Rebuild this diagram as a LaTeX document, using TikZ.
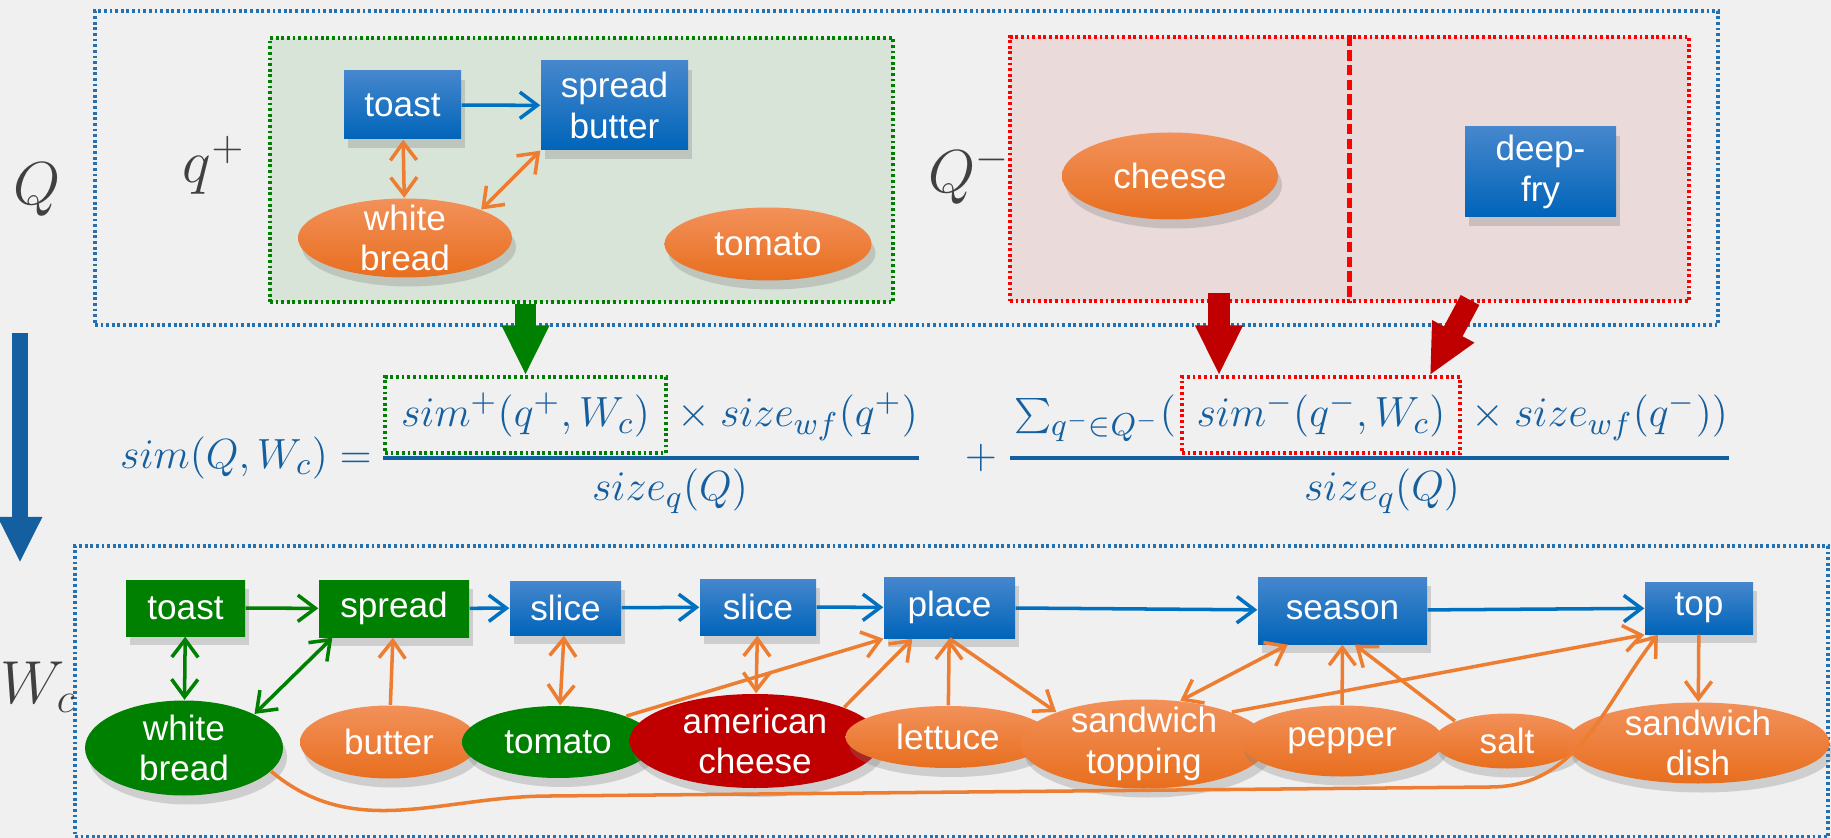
\documentclass[tikz,border=0pt]{standalone}
\usepackage[no-math]{fontspec}
\setmainfont{Liberation Sans}
\usetikzlibrary{arrows.meta, shapes.geometric, shadows, positioning}

\definecolor{bgc}{RGB}{240,240,240}
\definecolor{qblue}{RGB}{36,113,178}
\definecolor{boxtop}{RGB}{70,135,205}
\definecolor{boxbot}{RGB}{0,100,185}
\definecolor{orgtop}{RGB}{242,145,90}
\definecolor{orgbot}{RGB}{232,110,30}
\definecolor{wgreen}{RGB}{0,128,0}
\definecolor{wred}{RGB}{192,0,0}
\definecolor{negred}{RGB}{255,0,0}
\definecolor{linkblue}{RGB}{0,112,192}
\definecolor{linkorg}{RGB}{237,125,49}
\definecolor{fblue}{RGB}{20,95,160}
\definecolor{mgrey}{RGB}{64,64,64}
\definecolor{posfill}{RGB}{217,228,216}
\definecolor{negfill}{RGB}{234,218,218}

\tikzset{
  hd/.tip={Straight Barb[length=5pt,width=7.5pt]},
  sz/.style 2 args={minimum width=#1cm, minimum height=#2cm},
  act/.style={rectangle, top color=boxtop, bottom color=boxbot, text=white, align=center, inner sep=1pt,
    font=\fontsize{10}{11.5}\selectfont, drop shadow={shadow xshift=0.4mm, shadow yshift=-0.9mm, opacity=0.3}},
  actg/.style={act, top color=wgreen, bottom color=wgreen},
  ing/.style={ellipse, top color=orgtop, bottom color=orgbot, text=white, align=center, inner sep=0pt, inner ysep=-2pt,
    font=\fontsize{10}{11.5}\selectfont, drop shadow={shadow xshift=0.4mm, shadow yshift=-0.9mm, opacity=0.3}},
  ingg/.style={ing, top color=wgreen, bottom color=wgreen},
  ingr/.style={ing, top color=wred, bottom color=wred},
  flow/.style={linkblue, line width=1pt, -hd},
  flowg/.style={flow, wgreen},
  link/.style={linkorg, line width=1pt, -hd},
  blink/.style={link, hd-hd},
  blinkg/.style={blink, wgreen},
  dots/.style={line width=1pt, dash pattern=on 0.8pt off 0.8pt},
  lab/.style={text=mgrey, inner sep=0pt, font=\fontsize{17}{20}\selectfont},
  fml/.style={text=fblue, inner sep=1pt, font=\fontsize{13}{15}\selectfont},
  fbar/.style={fblue, line width=0.9pt},
  bigg/.style={wgreen, line width=6pt, -{Triangle[length=5mm,width=4.4mm]}},
  bigr/.style={wred, line width=6pt, -{Triangle[length=5mm,width=4.4mm]}}
}

\begin{document}
\begin{tikzpicture}
\fill[bgc] (0,0) rectangle (18.31,-8.38);
\useasboundingbox (0,0) rectangle (18.31,-8.38);

\node[draw=qblue, dots, sz={16.23}{3.14}] (qbox) at (9.065,-1.68) {};
\node[draw=wgreen, fill=posfill, dots, sz={6.23}{2.64}] (posbox) at (5.815,-1.70) {};
\node[draw=negred, fill=negfill, dots, sz={6.79}{2.64}] (negbox) at (13.495,-1.69) {};
\draw[negred, line width=1.3pt, dash pattern=on 3pt off 1.2pt] (negbox.north) -- (negbox.south);
\node[draw=qblue, dots, sz={17.53}{2.91}] (wbox) at (9.515,-6.915) {};

\node[lab, anchor=base west] (qlab) at (0.13,-2.05) {$Q$};
\node[lab, anchor=base west] (qplab) at (1.82,-1.83) {$q^+$};
\node[lab, anchor=base west] (qmlab) at (9.28,-1.93) {$Q^-$};
\node[lab, anchor=base west] (wlab) at (0.0,-7.03) {$W_c$};

\node[act, sz={1.17}{0.68}] (qtoast) at (4.025,-1.05) {toast};
\node[act, sz={1.47}{0.89}] (qspread) at (6.145,-1.055) {spread\\butter};
\node[ing, sz={2.14}{0.79}] (qbread) at (4.05,-2.38) {white\\bread};
\node[ing, sz={2.07}{0.73}] (qtomato) at (7.68,-2.44) {tomato};
\node[ing, sz={2.16}{0.87}] (qcheese) at (11.70,-1.76) {cheese};
\node[act, sz={1.51}{0.90}] (qfry) at (15.405,-1.72) {deep-\\fry};

\draw[flow] (qtoast) -- (qspread);
\draw[blink] (qtoast) -- (qbread);
\draw[blink] (qspread.south west) -- (qbread.north east);

\node[fml, anchor=east] (lhs) at (3.76,-4.58) {$sim(Q,W_c)=$};
\node[fml] (plus) at (9.81,-4.58) {$+$};
\node[fml, draw=wgreen, dots, sz={2.81}{0.76}, anchor=base] (simp) at (5.255,-4.27) {$sim^+(q^+,W_c)$};
\node[fml, anchor=base west, inner xsep=0pt] (timesp) at (simp.base east) {${}\times size_{wf}(q^+)$};
\node[fml, anchor=base] (denp) at (6.70,-5.01) {$size_q(Q)$};
\draw[fbar] (simp.west |- plus) -- (timesp.east |- plus);
\node[fml, draw=negred, dots, sz={2.78}{0.76}, anchor=base] (simn) at (13.21,-4.27) {$sim^-(q^-,W_c)$};
\node[fml, anchor=base east] (sumn) at (simn.base west) {$\sum_{q^-\in Q^-}($};
\node[fml, anchor=base west, inner xsep=0pt] (timesn) at (simn.base east) {${}\times size_{wf}(q^-))$};
\node[fml, anchor=base] (denn) at (13.82,-5.01) {$size_q(Q)$};
\draw[fbar] (sumn.west |- plus) -- (timesn.east |- plus);

\coordinate (na) at (12.19,-2.93);
\coordinate (nb) at (14.70,-3.00);
\draw[bigg] (posbox.south -| simp.north) -- (simp.north);
\draw[bigr] (na) -- (na |- simn.north);
\draw[bigr] (nb) -- ([xshift=-3.2mm]simn.north east);

\coordinate (dn1) at (0.20,-3.33);
\coordinate (dn2) at (0.20,-5.63);
\draw[fblue, line width=4.3pt, -{Triangle[length=4.6mm,width=4.1mm]}] (dn1) -- (dn2);

\node[actg, sz={1.19}{0.56}] (wtoast) at (1.855,-6.08) {toast};
\node[actg, sz={1.50}{0.57}] (wspread) at (3.94,-6.085) {spread};
\node[act, sz={1.11}{0.54}] (wslicea) at (5.655,-6.08) {slice};
\node[act, sz={1.16}{0.56}] (wsliceb) at (7.58,-6.07) {slice};
\node[act, sz={1.31}{0.61}] (wplace) at (9.495,-6.075) {place};
\node[act, sz={1.69}{0.67}] (wseason) at (13.425,-6.105) {season};
\node[act, sz={1.08}{0.52}] (wtop) at (16.99,-6.08) {top};

\node[ingg, sz={1.98}{0.95}] (wbread) at (1.84,-7.48) {white\\bread};
\node[ing, sz={1.78}{0.73}] (wbutter) at (3.89,-7.42) {butter};
\node[ingg, sz={1.92}{0.72}] (wtomato) at (5.58,-7.42) {tomato};
\node[ingr, sz={2.51}{0.94}] (wcheese) at (7.55,-7.41) {american\\cheese};
\node[ing, sz={2.05}{0.62}] (wlettuce) at (9.48,-7.37) {lettuce};
\node[ing, sz={2.47}{0.89}] (wtopping) at (11.44,-7.44) {sandwich\\topping};
\node[ing, sz={2.03}{0.71}] (wpepper) at (13.42,-7.41) {pepper};
\node[ing, sz={1.46}{0.55}] (wsalt) at (15.07,-7.41) {salt};
\node[ing, sz={2.63}{0.81}] (wdish) at (16.98,-7.43) {sandwich\\dish};

\coordinate (lowl) at (5.5,-7.96);
\coordinate (lowr) at (14.9,-7.87);

\draw[flowg] (wtoast) -- (wspread);
\draw[flow] (wspread) -- (wslicea);
\draw[flow] (wslicea) -- (wsliceb);
\draw[flow] (wsliceb) -- (wplace);
\draw[flow] (wplace) -- (wseason);
\draw[flow] (wseason) -- (wtop);
\draw[blinkg] (wtoast) -- (wbread);
\draw[blinkg] ([xshift=1.4mm]wspread.south west) -- (wbread.north east);
\draw[link] (wbutter) -- (wspread);
\draw[blink] (wslicea) -- (wtomato);
\draw[blink] (wsliceb) -- (wcheese);
\draw[link] (wtomato.north east) -- (wplace.south west);
\draw[link] (wcheese.north east) -- (wplace.220);
\draw[link] (wlettuce) -- (wplace);
\draw[link] (wplace.south) -- (wtopping.north west);
\draw[blink] (wseason.212) -- (wtopping.50);
\draw[link] (wpepper) -- (wseason);
\draw[link] (wsalt.north west) -- (wseason.-70);
\draw[link] (wtopping.north east) -- (wtop.south west);
\draw[link] (wbread.-15) to[out=-40,in=180] (lowl) -- (lowr) to[out=0,in=232] (wtop.213);
\draw[link] (wtop) -- (wdish);
\end{tikzpicture}
\end{document}
